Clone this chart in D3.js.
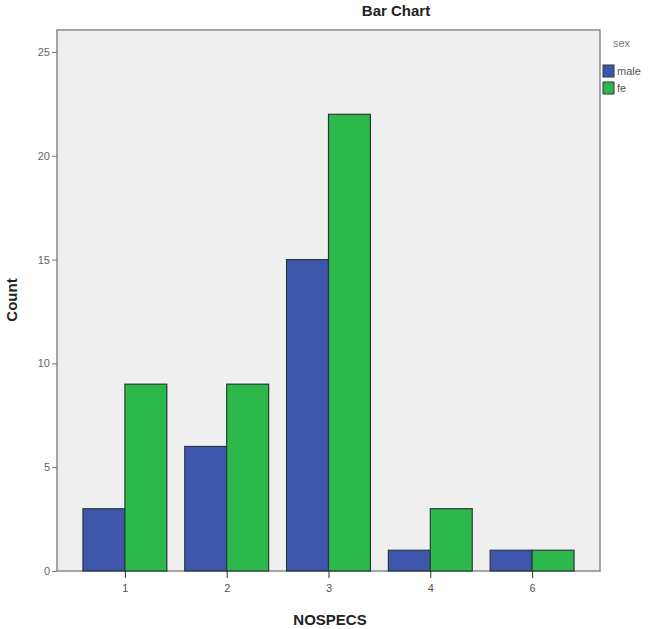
<!DOCTYPE html>
<html>
<head>
<meta charset="utf-8">
<script src="https://cdn.jsdelivr.net/npm/d3@7"></script>
<style>
  body { margin: 0; background: #fff; }
  text { font-family: "Liberation Sans", Arial, sans-serif; }
</style>
</head>
<body>
<div id="container"></div>
<script>
var categories = ["1", "2", "3", "4", "6"];
var seriesNames = ["male", "fe"];
var maleCounts = [3, 6, 15, 1, 1];
var feCounts = [9, 9, 22, 3, 1];
var yTicks = [0, 5, 10, 15, 20, 25];

var colors = { male: "#3d56ab", fe: "#2cb84b" };

var rows = categories.map(function(c, i) {
  return { cat: c, male: maleCounts[i], fe: feCounts[i] };
});

var svg = d3.select("#container").append("svg")
  .attr("width", 651)
  .attr("height", 629);

var plotLeft = 57, plotRight = 600, plotTop = 30, plotBottom = 571;

var x = d3.scaleBand()
  .domain(categories)
  .range([plotLeft, plotRight])
  .paddingOuter(0.255)
  .paddingInner(0.176);

var xInner = d3.scaleBand()
  .domain(seriesNames)
  .range([0, x.bandwidth()]);

var y = d3.scaleLinear()
  .domain([0, 25])
  .range([plotBottom, 52]);

// plot background
svg.append("rect")
  .attr("x", plotLeft)
  .attr("y", plotTop)
  .attr("width", plotRight - plotLeft)
  .attr("height", plotBottom - plotTop)
  .attr("fill", "#efefef")
  .attr("stroke", "#8a8a8a")
  .attr("stroke-width", 1.5);

// bars
var groups = svg.selectAll("g.grp")
  .data(rows)
  .enter()
  .append("g")
  .attr("class", "grp")
  .attr("transform", function(d) { return "translate(" + x(d.cat) + ",0)"; });

groups.selectAll("rect")
  .data(function(d) { return seriesNames.map(function(s) { return { key: s, value: d[s] }; }); })
  .enter()
  .append("rect")
  .attr("x", function(d) { return xInner(d.key); })
  .attr("y", function(d) { return y(d.value); })
  .attr("width", xInner.bandwidth())
  .attr("height", function(d) { return plotBottom - y(d.value); })
  .attr("fill", function(d) { return colors[d.key]; })
  .attr("stroke", "#2a3a3a")
  .attr("stroke-width", 1.2);

// y axis
var yAxis = svg.append("g")
  .attr("transform", "translate(" + plotLeft + ",0)")
  .call(d3.axisLeft(y).tickValues(yTicks).tickSize(5).tickPadding(2));
yAxis.select(".domain").remove();
yAxis.selectAll("line").attr("stroke", "#777");
yAxis.selectAll("text").attr("fill", "#666").style("font-size", "11px");

// x axis
var xAxis = svg.append("g")
  .attr("transform", "translate(0," + plotBottom + ")")
  .call(d3.axisBottom(d3.scalePoint().domain(categories)
    .range([x(categories[0]) + x.bandwidth() / 2, x(categories[categories.length - 1]) + x.bandwidth() / 2]))
    .tickSize(7).tickPadding(6));
xAxis.select(".domain").remove();
xAxis.selectAll("line").attr("stroke", "#333");
xAxis.selectAll("text").attr("fill", "#555").style("font-size", "11px");

// titles
svg.append("text")
  .attr("x", 396).attr("y", 16)
  .attr("text-anchor", "middle")
  .style("font-size", "15px").style("font-weight", "bold")
  .attr("fill", "#222")
  .text("Bar Chart");

svg.append("text")
  .attr("x", 330).attr("y", 625)
  .attr("text-anchor", "middle")
  .style("font-size", "15px").style("font-weight", "bold")
  .attr("fill", "#222")
  .text("NOSPECS");

svg.append("text")
  .attr("transform", "translate(17,300) rotate(-90)")
  .attr("text-anchor", "middle")
  .style("font-size", "15px").style("font-weight", "bold")
  .attr("fill", "#222")
  .text("Count");

// legend
svg.append("text")
  .attr("x", 613).attr("y", 47)
  .style("font-size", "11px")
  .attr("fill", "#777")
  .text("sex");

var leg = svg.selectAll("g.leg")
  .data(seriesNames)
  .enter()
  .append("g")
  .attr("class", "leg")
  .attr("transform", function(d, i) { return "translate(603," + (65 + i * 17) + ")"; });

leg.append("rect")
  .attr("width", 11).attr("height", 12)
  .attr("fill", function(d) { return colors[d]; })
  .attr("stroke", "#2a3a3a");

leg.append("text")
  .attr("x", 14).attr("y", 10)
  .style("font-size", "11px")
  .attr("fill", "#555")
  .text(function(d) { return d; });
</script>
</body>
</html>
